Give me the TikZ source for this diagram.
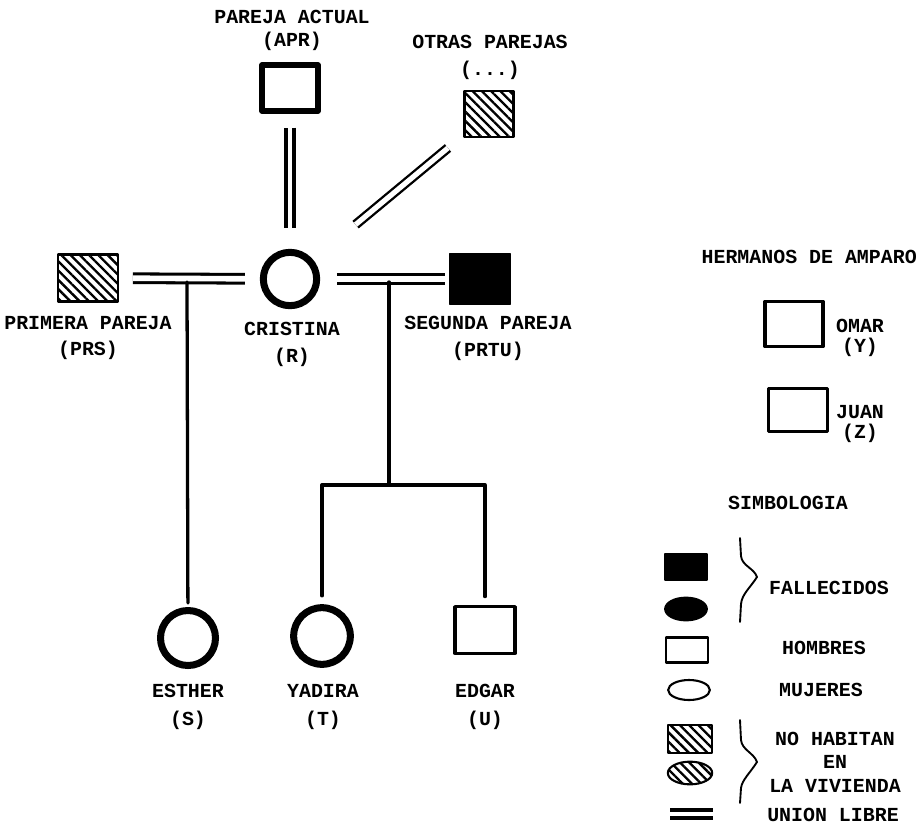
\documentclass[tikz,border=0pt]{standalone}
\usepackage{fontspec}
\usepackage{tikz}
\usetikzlibrary{calc}
\usetikzlibrary{shapes.geometric}
\usetikzlibrary{patterns.meta}
\setmainfont{Liberation Mono}
\tikzstyle{every node}=[font=\fontsize{17}{23}\selectfont\bfseries]
\tikzstyle{etiq}=[align=center, inner sep=0pt]
\tikzstyle{hombre}=[draw, rectangle, line width=3pt, minimum width=1.8cm, minimum height=1.4cm, inner sep=0pt]
\tikzstyle{mujer}=[draw, circle, line width=6pt, minimum size=1.65cm, inner sep=0pt]
\tikzstyle{rayado}=[pattern={Lines[angle=-45,distance=5.6pt,line width=2pt]}]
\tikzstyle{union}=[double, line cap=butt, line width=2.6pt, double distance=4.8pt]
\tikzstyle{linea}=[line width=2.8pt]
\tikzstyle{leyenda}=[draw, line width=1.8pt, minimum width=1.25cm, minimum height=0.75cm, inner sep=0pt]
\tikzstyle{llave}=[line width=1.6pt, line cap=round]

\begin{document}
\begin{tikzpicture}[line cap=round,line join=round,x=0.03cm,y=-0.03cm]
            \useasboundingbox (0,0) rectangle (918,834);
            % familia
            \node[hombre, line width=4.5pt, minimum width=1.68cm, minimum height=1.38cm] (apr) at (290,88) {};
            \node[hombre, rayado, line width=2.5pt, minimum width=1.45cm, minimum height=1.38cm] (otras) at (489,114) {};
            \node[hombre, rayado, line width=2.5pt, minimum width=1.8cm, minimum height=1.4cm] (prs) at (88,278) {};
            \node[mujer, minimum size=1.6cm] (cris) at (290,279) {};
            \node[hombre, fill=black, line width=1pt, minimum width=1.85cm, minimum height=1.5cm] (prtu) at (480,279) {};
            \node[mujer] (esther) at (188,638) {};
            \node[mujer, minimum size=1.7cm] (yadira) at (322,636) {};
            \node[hombre] (edgar) at (485,630) {};
            \node[etiq] (lapr) at (292,30) {PAREJA ACTUAL\\[-3.5pt](APR)};
            \node[etiq] (lotras) at (490,57) {OTRAS PAREJAS\\(...)};
            \node[etiq] (lprs) at (88,338) {PRIMERA PAREJA\\(PRS)};
            \node[etiq] (lcris) at (292,344) {CRISTINA\\(R)};
            \node[etiq] (lprtu) at (488,338) {SEGUNDA PAREJA\\(PRTU)};
            \node[etiq] (lesther) at (188,707) {ESTHER\\[1.5pt](S)};
            \node[etiq] (lyadira) at (323,707) {YADIRA\\[1.5pt](T)};
            \node[etiq] (ledgar) at (485,707) {EDGAR\\[1.5pt](U)};
            % uniones
            \draw[union, shorten <=0.4cm, shorten >=0.45cm] (prs) -- (cris);
            \draw[union, shorten <=0.5cm, shorten >=0.1cm] (cris) -- (prtu);
            \draw[union, line width=2.8pt, double distance=4pt, shorten <=0.42cm, shorten >=0.62cm] (apr) -- (apr |- cris.north);
            \draw[union, line width=2pt, double distance=4.4pt, shorten <=1.65cm, shorten >=0.6cm] (cris) -- (otras);
            % hijos
            \coordinate (u1) at (187,282);
            \coordinate (u2) at (389,282);
            \coordinate (rama) at (389,485);
            \draw[linea, shorten >=0.12cm] (u1) -- (esther);
            \draw[linea] (u2) -- (rama);
            \draw[linea, shorten <=0.25cm, shorten >=0.25cm] (yadira) |- (rama) -| (edgar);
            % hermanos
            \node[anchor=east, inner sep=0pt] (lherm) at (917,257) {HERMANOS DE AMPARO};
            \node[hombre, minimum width=1.75cm, minimum height=1.35cm] (omar) at (794,324) {};
            \node[hombre, minimum width=1.78cm, minimum height=1.3cm] (juan) at (798,410) {};
            \node[etiq] (lomar) at (860,338) {OMAR\\[-6pt](Y)};
            \node[etiq] (ljuan) at (860,424) {JUAN\\[-6pt](Z)};
            % simbologia
            \node[etiq] (lsimb) at (788,503) {SIMBOLOGIA};
            \node[leyenda, fill=black, minimum height=0.78cm] (sfr) at (686,567) {};
            \node[leyenda, ellipse, fill=black, minimum height=0.68cm] (sfe) at (686,609) {};
            \node[leyenda] (sh) at (687,650) {};
            \node[leyenda, ellipse, minimum height=0.6cm] (sm) at (689,690) {};
            \node[leyenda, rayado, minimum width=1.33cm, minimum height=0.82cm] (snr) at (690,739) {};
            \node[leyenda, ellipse, rayado, minimum width=1.33cm, minimum height=0.68cm] (sne) at (690,773) {};
            \coordinate (ul1) at (670,814);
            \coordinate (ul2) at (713,814);
            \draw[union, line width=3pt, double distance=4pt] (ul1) -- (ul2);
            \draw[llave] (740,538) -- (741,556) .. controls (742,566) and (754,568) .. (757,577) .. controls (750,588) and (742,594) .. (741,604) -- (740,622);
            \draw[llave] (740,720) -- (741,740) .. controls (742,750) and (754,753) .. (757,762) .. controls (750,773) and (742,780) .. (741,788) -- (740,803);
            \node[etiq] (lfall) at (829,588) {FALLECIDOS};
            \node[etiq] (lhomb) at (824,648) {HOMBRES};
            \node[etiq] (lmuj) at (821,690) {MUJERES};
            \node[etiq] (lnohab) at (835,762) {NO HABITAN\\[-3pt]EN\\[-3pt]LA VIVIENDA};
            \node[etiq] (lunion) at (833,815) {UNION LIBRE};
        \end{tikzpicture}
\end{document}
